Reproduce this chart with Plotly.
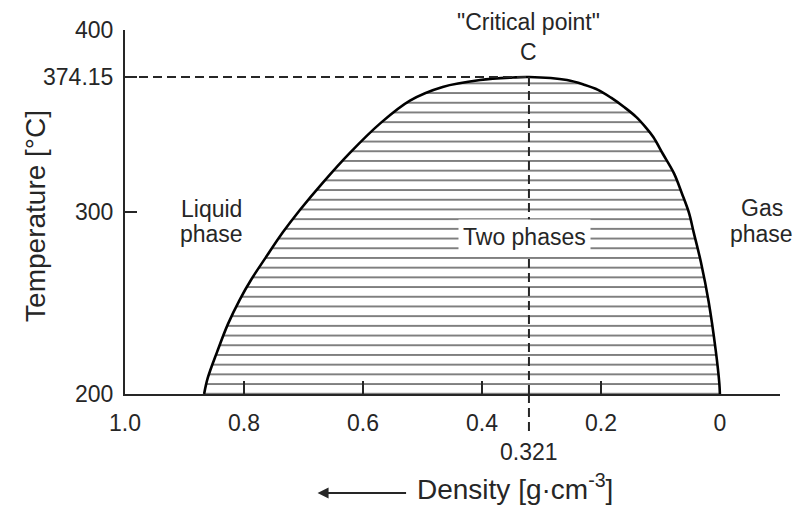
import plotly.graph_objects as go

# Boundary of the liquid-vapour coexistence region of water
# liquid branch: temperature (°C) and density (g·cm^-3)
liquid_temp = [200, 208.7, 223.3, 238.4, 251.9, 263.3, 275.2, 288.7, 301.1,
               316.3, 332.5, 348.7, 361.2, 368.7, 372.5, 373.9, 374.15]
liquid_density = [0.867, 0.861, 0.845, 0.827, 0.807, 0.787, 0.763, 0.735,
                  0.706, 0.667, 0.622, 0.571, 0.521, 0.466, 0.403, 0.348, 0.321]
# vapour branch
vapour_temp = [200, 205.9, 223.8, 250.8, 272.5, 288.7, 299.5, 310.3, 321.1,
               332.0, 341.2, 346.6, 352.0, 357.4, 362.8, 367.1, 369.8, 372.5,
               374.15]
vapour_density = [0.000, 0.001, 0.007, 0.019, 0.032, 0.044, 0.052, 0.064,
                  0.077, 0.096, 0.112, 0.125, 0.140, 0.160, 0.183, 0.205,
                  0.227, 0.257, 0.321]

critical_temperature = 374.15
critical_density = 0.321

x_tick_vals = [1.0, 0.8, 0.6, 0.4, 0.2, 0.0]
x_tick_text = ["1.0", "0.8", "0.6", "0.4", "0.2", "0"]
x_inner_ticks = [0.8, 0.6, 0.4, 0.2]
y_tick_vals = [200, 300, 374.15, 400]
y_tick_text = ["200", "300", "374.15", "400"]

FONT = "Liberation Sans, Arial, Helvetica, sans-serif"
INK = "#262626"

# closed outline of the two-phase region (liquid branch up, vapour branch down)
dome_x = liquid_density + vapour_density[::-1][1:]
dome_y = liquid_temp + vapour_temp[::-1][1:]

fig = go.Figure()

# hatched two-phase region
fig.add_trace(go.Scatter(
    x=dome_x, y=dome_y, mode="lines", fill="toself",
    line=dict(width=0, shape="spline", smoothing=1.0),
    fillcolor="rgba(0,0,0,0)",
    fillpattern=dict(shape="-", size=9.7, solidity=0.2,
                     fgcolor="#000000", bgcolor="white"),
    hoverinfo="skip", showlegend=False,
))

# saturation curve
fig.add_trace(go.Scatter(
    x=dome_x, y=dome_y, mode="lines",
    line=dict(color="black", width=2.6, shape="spline", smoothing=1.0),
    showlegend=False,
))

# dashed guides to the critical point
fig.add_trace(go.Scatter(
    x=[x_tick_vals[0], critical_density], y=[critical_temperature, critical_temperature],
    mode="lines", line=dict(color=INK, width=2, dash="9px,5px"), showlegend=False,
))
fig.add_trace(go.Scatter(
    x=[critical_density, critical_density], y=[critical_temperature, 200],
    mode="lines", line=dict(color=INK, width=2, dash="9px,5px"), showlegend=False,
))

# carrier trace for the inner-tick axis
fig.add_trace(go.Scatter(x=[critical_density], y=[300], xaxis="x2", mode="markers",
                         marker=dict(opacity=0), hoverinfo="skip", showlegend=False))

# dashed guide continuing below the axis
fig.add_shape(type="line", xref="x", yref="paper",
              x0=critical_density, x1=critical_density, y0=0, y1=-0.105,
              line=dict(color=INK, width=2, dash="9px,5px"))

fig.update_layout(
    width=810, height=506,
    margin=dict(l=125, r=30, t=30, b=112),
    paper_bgcolor="white", plot_bgcolor="white",
    font=dict(family=FONT, color=INK),
    xaxis=dict(range=[1.0, -0.101], showline=True, linecolor=INK, linewidth=2,
               tickvals=x_tick_vals, ticktext=x_tick_text, ticks="",
               showgrid=False, zeroline=False, tickfont=dict(size=23),
               ticklabelstandoff=7),
    xaxis2=dict(overlaying="x", matches="x", anchor="y", side="bottom",
                tickvals=x_inner_ticks, ticks="inside", ticklen=13, tickwidth=2,
                tickcolor=INK, showticklabels=False, showline=False,
                showgrid=False, zeroline=False),
    yaxis=dict(range=[200, 400], showline=True, linecolor=INK, linewidth=2,
               tickvals=y_tick_vals, ticktext=y_tick_text, ticks="inside",
               ticklen=12, tickwidth=2, tickcolor=INK, showgrid=False,
               zeroline=False, tickfont=dict(size=23), ticklabelstandoff=5),
)

label_font = dict(size=23)
annotations = [
    dict(text="C", x=critical_density, y=critical_temperature, xref="x", yref="y",
         yanchor="middle", yshift=25, showarrow=False, font=label_font),
    dict(text="\"Critical point\"", x=critical_density, y=critical_temperature,
         xref="x", yref="y", yanchor="middle", yshift=55, showarrow=False,
         font=label_font),
    dict(text="Liquid", x=0.854, y=301.6, xref="x", yref="y", yanchor="middle",
         showarrow=False, font=label_font),
    dict(text="phase", x=0.854, y=287.9, xref="x", yref="y", yanchor="middle",
         showarrow=False, font=label_font),
    dict(text="Gas", x=-0.07, y=302.2, xref="x", yref="y", yanchor="middle",
         showarrow=False, font=label_font),
    dict(text="phase", x=-0.07, y=287.9, xref="x", yref="y", yanchor="middle",
         showarrow=False, font=label_font),
    dict(text="Two phases", x=0.328, y=286.3, xref="x", yref="y", yanchor="middle",
         showarrow=False, font=label_font, bgcolor="white", borderpad=4),
    dict(text="0.321", x=critical_density, y=-0.159, xref="x", yref="paper",
         yanchor="middle", showarrow=False, font=label_font),
    dict(text="Temperature [°C]", x=-0.137, y=0.49, xref="paper", yref="paper",
         xanchor="center", yanchor="middle", textangle=-90, showarrow=False,
         font=dict(size=28)),
    dict(text="Density [g·cm<sup>-3</sup>]", x=0.595, y=-0.255, xref="paper",
         yref="paper", xanchor="center", yanchor="middle", showarrow=False,
         font=dict(size=28)),
    # direction arrow next to the density label
    dict(text="", x=0.294, y=-0.272, xref="paper", yref="paper",
         ax=90, ay=0, axref="pixel", ayref="pixel",
         showarrow=True, arrowhead=2, arrowsize=1.1, arrowwidth=2, arrowcolor=INK),
]
fig.update_layout(annotations=annotations)

fig.write_html("out.html")
